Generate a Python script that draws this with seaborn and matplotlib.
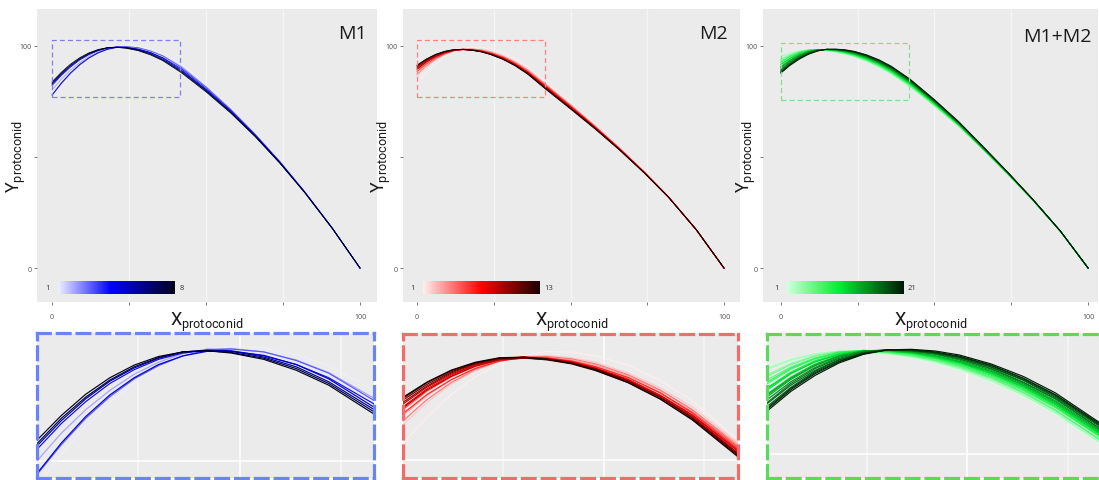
import matplotlib
matplotlib.use("Agg")
import matplotlib.pyplot as plt
import seaborn as sns
import pandas as pd
from matplotlib import font_manager
from matplotlib.colors import LinearSegmentedColormap, Normalize
from matplotlib.cm import ScalarMappable
from matplotlib.patches import Rectangle

# ---------------- data ----------------
X_GRID = [0, 3, 6, 9, 12, 15, 18, 21, 24, 28, 32, 36, 42, 50, 58, 66, 74, 82, 91, 100]

M1_CURVES = [
    [75.5, 81.1, 86.0, 90.2, 93.6, 96.3, 98.3, 99.5, 100.0, 99.7, 98.5, 96.6, 92.0, 82.8, 72.3, 60.8, 48.2, 34.6, 18.0, 0.0],
    [80.0, 84.8, 88.9, 92.3, 95.1, 97.2, 98.7, 99.5, 99.6, 99.0, 97.6, 95.4, 90.6, 81.6, 71.5, 60.2, 47.9, 34.4, 18.0, 0.0],
    [77.6, 82.8, 87.4, 91.2, 94.3, 96.6, 98.3, 99.3, 99.5, 99.0, 97.5, 95.3, 90.2, 81.3, 71.2, 60.0, 47.8, 34.3, 17.9, 0.0],
    [82.0, 86.5, 90.3, 93.5, 95.9, 97.7, 98.8, 99.3, 99.2, 98.3, 96.8, 94.5, 89.6, 80.7, 70.9, 59.8, 47.6, 34.3, 17.9, 0.0],
    [77.8, 83.1, 87.7, 91.5, 94.5, 96.8, 98.3, 99.1, 99.1, 98.4, 96.8, 94.3, 89.0, 80.2, 70.5, 59.5, 47.5, 34.2, 17.9, 0.0],
    [82.6, 87.0, 90.8, 93.9, 96.2, 97.9, 99.0, 99.3, 99.1, 98.1, 96.4, 93.8, 88.6, 79.9, 70.2, 59.4, 47.3, 34.1, 17.9, 0.0],
    [83.0, 87.4, 91.1, 94.1, 96.4, 98.0, 99.0, 99.2, 98.9, 97.9, 96.1, 93.5, 88.2, 79.6, 70.0, 59.2, 47.2, 34.1, 17.9, 0.0],
    [83.6, 87.9, 91.6, 94.5, 96.7, 98.2, 99.0, 99.2, 98.8, 97.7, 95.8, 93.2, 87.8, 79.2, 69.7, 59.0, 47.1, 34.0, 17.8, 0.0],
]

M2_CURVES = [
    [83.0, 87.7, 91.7, 94.8, 97.1, 98.6, 99.3, 99.2, 98.5, 96.9, 94.2, 90.6, 83.3, 74.1, 64.4, 54.3, 43.6, 32.1, 17.3, 0.0],
    [86.3, 90.3, 93.5, 95.9, 97.5, 98.4, 98.6, 98.2, 97.4, 95.5, 92.9, 89.5, 82.8, 73.7, 64.1, 54.1, 43.4, 32.0, 17.3, 0.0],
    [88.0, 91.5, 94.3, 96.4, 97.8, 98.4, 98.3, 97.8, 96.9, 95.0, 92.4, 89.0, 82.5, 73.4, 63.9, 54.0, 43.3, 32.0, 17.3, 0.0],
    [87.0, 90.8, 93.8, 96.1, 97.6, 98.4, 98.4, 98.0, 97.1, 95.2, 92.5, 89.0, 82.2, 73.2, 63.7, 53.8, 43.3, 31.9, 17.2, 0.0],
    [89.0, 92.3, 94.8, 96.7, 97.8, 98.3, 98.2, 97.6, 96.6, 94.7, 92.0, 88.6, 82.0, 73.0, 63.6, 53.7, 43.2, 31.9, 17.2, 0.0],
    [88.3, 91.7, 94.3, 96.3, 97.6, 98.2, 98.1, 97.6, 96.6, 94.7, 92.0, 88.4, 81.7, 72.7, 63.4, 53.6, 43.1, 31.9, 17.2, 0.0],
    [89.5, 92.7, 95.1, 96.9, 98.0, 98.3, 98.1, 97.5, 96.4, 94.4, 91.6, 88.1, 81.5, 72.6, 63.3, 53.5, 43.1, 31.8, 17.2, 0.0],
    [90.0, 93.0, 95.3, 96.9, 97.9, 98.2, 98.0, 97.4, 96.3, 94.3, 91.5, 88.0, 81.3, 72.4, 63.2, 53.4, 43.0, 31.8, 17.2, 0.0],
    [89.3, 92.5, 94.9, 96.7, 97.8, 98.1, 97.9, 97.3, 96.2, 94.1, 91.3, 87.8, 81.0, 72.1, 63.0, 53.3, 43.0, 31.8, 17.2, 0.0],
    [90.3, 93.2, 95.5, 97.1, 98.0, 98.2, 97.9, 97.2, 96.1, 94.0, 91.2, 87.6, 80.9, 72.0, 62.9, 53.3, 42.9, 31.8, 17.2, 0.0],
    [90.7, 93.5, 95.7, 97.2, 98.1, 98.3, 98.0, 97.3, 96.2, 94.1, 91.2, 87.5, 80.7, 71.9, 62.8, 53.2, 42.9, 31.7, 17.2, 0.0],
    [91.0, 93.8, 95.9, 97.3, 98.1, 98.2, 97.8, 97.1, 95.9, 93.8, 90.9, 87.3, 80.5, 71.7, 62.7, 53.1, 42.8, 31.7, 17.2, 0.0],
    [91.2, 93.9, 96.0, 97.4, 98.2, 98.3, 97.9, 97.2, 96.0, 93.8, 90.9, 87.2, 80.3, 71.5, 62.5, 53.0, 42.8, 31.7, 17.2, 0.0],
]

M12_CURVES = [
    [95.5, 96.8, 97.7, 98.0, 97.9, 97.5, 96.9, 95.9, 94.7, 92.6, 90.0, 86.9, 81.3, 72.6, 63.4, 52.8, 41.9, 30.4, 16.5, 0.0],
    [94.8, 96.4, 97.5, 98.0, 97.9, 97.6, 97.0, 96.1, 94.9, 92.8, 90.3, 87.2, 81.6, 72.8, 63.5, 52.9, 42.0, 30.5, 16.5, 0.0],
    [95.0, 96.6, 97.6, 98.1, 98.1, 97.7, 97.1, 96.2, 95.0, 92.9, 90.3, 87.2, 81.5, 72.8, 63.5, 52.9, 41.9, 30.5, 16.5, 0.0],
    [93.9, 95.9, 97.3, 98.0, 98.1, 97.8, 97.2, 96.4, 95.2, 93.2, 90.6, 87.5, 81.9, 73.1, 63.7, 53.1, 42.0, 30.5, 16.5, 0.0],
    [93.6, 95.7, 97.2, 98.0, 98.1, 97.8, 97.3, 96.4, 95.3, 93.3, 90.8, 87.7, 82.1, 73.3, 63.9, 53.1, 42.1, 30.6, 16.5, 0.0],
    [93.0, 95.3, 96.9, 97.9, 98.1, 97.9, 97.4, 96.5, 95.4, 93.4, 90.8, 87.7, 82.0, 73.2, 63.8, 53.1, 42.1, 30.5, 16.5, 0.0],
    [92.3, 94.9, 96.7, 97.8, 98.1, 97.9, 97.4, 96.7, 95.6, 93.6, 91.1, 88.1, 82.5, 73.6, 64.1, 53.3, 42.2, 30.6, 16.5, 0.0],
    [92.6, 95.1, 96.8, 97.9, 98.2, 98.0, 97.6, 96.8, 95.7, 93.8, 91.3, 88.2, 82.6, 73.7, 64.2, 53.3, 42.2, 30.6, 16.5, 0.0],
    [91.6, 94.4, 96.4, 97.7, 98.2, 98.1, 97.7, 96.9, 95.9, 94.0, 91.5, 88.4, 82.8, 73.9, 64.3, 53.4, 42.3, 30.6, 16.5, 0.0],
    [91.2, 94.1, 96.2, 97.5, 98.2, 98.1, 97.8, 97.0, 96.0, 94.1, 91.7, 88.6, 83.0, 74.0, 64.4, 53.5, 42.3, 30.7, 16.5, 0.0],
    [91.5, 94.2, 96.2, 97.5, 98.1, 98.1, 97.8, 97.1, 96.1, 94.2, 91.8, 88.7, 83.1, 74.1, 64.5, 53.6, 42.4, 30.7, 16.5, 0.0],
    [90.5, 93.5, 95.8, 97.3, 98.1, 98.2, 97.8, 97.2, 96.2, 94.4, 92.0, 88.9, 83.3, 74.3, 64.6, 53.6, 42.4, 30.7, 16.5, 0.0],
    [90.0, 93.1, 95.5, 97.2, 98.0, 98.2, 97.9, 97.3, 96.3, 94.5, 92.1, 89.1, 83.5, 74.5, 64.7, 53.7, 42.5, 30.7, 16.5, 0.0],
    [90.3, 93.3, 95.6, 97.2, 98.1, 98.3, 98.0, 97.5, 96.5, 94.7, 92.3, 89.3, 83.7, 74.6, 64.8, 53.8, 42.5, 30.8, 16.6, 0.0],
    [89.5, 92.7, 95.2, 97.0, 98.0, 98.3, 98.1, 97.6, 96.7, 94.9, 92.5, 89.6, 83.9, 74.8, 65.0, 53.9, 42.6, 30.8, 16.6, 0.0],
    [89.0, 92.4, 95.0, 96.8, 97.9, 98.3, 98.1, 97.6, 96.7, 95.0, 92.6, 89.7, 84.0, 74.9, 65.0, 53.9, 42.6, 30.8, 16.6, 0.0],
    [88.8, 92.1, 94.7, 96.6, 97.8, 98.3, 98.2, 97.7, 96.9, 95.2, 92.9, 89.9, 84.3, 75.1, 65.2, 54.1, 42.7, 30.8, 16.6, 0.0],
    [88.3, 91.7, 94.5, 96.5, 97.7, 98.3, 98.2, 97.8, 97.0, 95.3, 93.0, 90.1, 84.5, 75.3, 65.3, 54.1, 42.7, 30.9, 16.6, 0.0],
    [88.0, 91.5, 94.3, 96.3, 97.7, 98.3, 98.3, 97.9, 97.1, 95.5, 93.2, 90.3, 84.6, 75.4, 65.4, 54.2, 42.8, 30.9, 16.6, 0.0],
    [87.8, 91.3, 94.1, 96.2, 97.6, 98.3, 98.3, 97.9, 97.2, 95.6, 93.3, 90.4, 84.8, 75.6, 65.5, 54.3, 42.8, 30.9, 16.6, 0.0],
    [87.5, 91.0, 93.8, 96.0, 97.5, 98.3, 98.4, 98.1, 97.4, 95.8, 93.6, 90.7, 85.0, 75.7, 65.7, 54.4, 42.9, 30.9, 16.6, 0.0],
]

PANEL_TITLES = ["M1", "M2", "M1+M2"]
CURVE_SETS = [M1_CURVES, M2_CURVES, M12_CURVES]
X_TICKS = [0, 25, 50, 75, 100]
X_TICKLABELS = ["0", "", "", "", "100"]
Y_TICKS = [0, 50, 100]
Y_TICKLABELS = ["0", "", "100"]
ZOOM_BOXES = [(0, 41.6, 77.0, 102.3), (0, 41.7, 76.9, 102.4), (0, 41.8, 75.7, 101.1)]

# ---------------- style ----------------
CMAP_STOPS = [
    [(0.0, "#eeeeff"), (0.45, "#0000ff"), (1.0, "#00001a")],
    [(0.0, "#ffeeee"), (0.5, "#ff0000"), (1.0, "#1a0000")],
    [(0.0, "#d2ffdc"), (0.45, "#00ee33"), (1.0, "#001a05")],
]
RECT_COLORS = ["#7f7ff2", "#ff8080", "#86dc92"]
BORDER_COLORS = ["#6b84f5", "#f26c6c", "#5cd85c"]

W, H = 1099, 481
PANELS_PX = [(37, 10, 377, 303), (403, 10, 740, 303), (763, 10, 1098, 303)]
XLIMS = [(-4.87, 105.5), (-4.56, 105.2), (-5.75, 103.2)]
YLIM = (-15.2, 116.4)
INSETS_PX = [(37, 334, 374, 479), (403, 335, 738, 479), (767, 335, 1102, 479)]
YLABEL_X = [-0.026, -0.03, -0.015]
TITLE_POS = [(0.97, 0.949), (0.964, 0.949), (0.982, 0.939)]
BG = "#ebebeb"

sns.set_theme(style="white")
plt.rcParams["font.family"] = ["Open Sans", "DejaVu Sans"]
names = {f.name for f in font_manager.fontManager.ttflist}
LABEL_FONT = "Liberation Sans Narrow" if "Liberation Sans Narrow" in names else "Roboto"
plt.rcParams["mathtext.fontset"] = "custom"
plt.rcParams["mathtext.rm"] = LABEL_FONT
plt.rcParams["mathtext.it"] = LABEL_FONT
plt.rcParams["lines.solid_joinstyle"] = "round"
plt.rcParams["lines.solid_capstyle"] = "round"


def px_rect(x0, y0, x1, y1):
    return [x0 / W, 1 - y1 / H, (x1 - x0) / W, (y1 - y0) / H]


fig = plt.figure(figsize=(W / 100, H / 100), dpi=100)
fig.patch.set_facecolor("white")

for k in range(3):
    curves = CURVE_SETS[k]
    n = len(curves)
    cmap = LinearSegmentedColormap.from_list(f"cm{k}", CMAP_STOPS[k])
    names_c = [f"c{i + 1:02d}" for i in range(n)]
    rows = []
    for name, ys in zip(names_c, curves):
        for x, y in zip(X_GRID, ys):
            rows.append({"x": x, "y": y, "curve": name})
    df = pd.DataFrame(rows)
    palette = {nm: cmap(i / (n - 1)) for i, nm in enumerate(names_c)}

    # ---- main panel ----
    ax = fig.add_axes(px_rect(*PANELS_PX[k]))
    ax.set_facecolor(BG)
    for gx in (25, 50, 75):
        ax.axvline(gx, color="white", lw=0.9, alpha=0.5, zorder=0)
    sns.lineplot(data=df, x="x", y="y", hue="curve", hue_order=names_c, palette=palette,
                 estimator=None, sort=False, legend=False, linewidth=0.6, ax=ax)
    ax.set_xlim(*XLIMS[k])
    ax.set_ylim(*YLIM)
    for s in ax.spines.values():
        s.set_visible(False)
    ax.set_xticks(X_TICKS)
    ax.set_xticklabels(X_TICKLABELS)
    ax.set_yticks(Y_TICKS)
    ax.set_yticklabels(Y_TICKLABELS)
    ax.tick_params(axis="both", bottom=True, left=True, length=2, width=0.6, color="#666666",
                   labelsize=5, labelcolor="#4d4d4d")
    ax.tick_params(axis="x", pad=6)
    ax.tick_params(axis="y", pad=2)
    ax.set_xlabel(r"$\mathrm{X}_{\mathrm{protoconid}}$", fontsize=13, color="#1a1a1a")
    ax.set_ylabel(r"$\mathrm{Y}_{\mathrm{protoconid}}$", fontsize=13, color="#1a1a1a")
    ax.xaxis.set_label_coords(0.5, -0.025)
    ax.xaxis.label.set_va("top")
    ax.yaxis.set_label_coords(YLABEL_X[k], 0.5)

    ax.text(TITLE_POS[k][0], TITLE_POS[k][1], PANEL_TITLES[k], transform=ax.transAxes,
            ha="right", va="top", fontsize=14, color="#1a1a1a")

    x0, x1, y0, y1 = ZOOM_BOXES[k]
    ax.add_patch(Rectangle((x0, y0), x1 - x0, y1 - y0, fill=False, ec=RECT_COLORS[k],
                           lw=0.9, ls=(0, (4, 2.5)), zorder=5))

    # ---- colour legend ----
    cax = ax.inset_axes([2, -11.6, 38, 5.8], transform=ax.transData)
    sm = ScalarMappable(norm=Normalize(1, n), cmap=cmap)
    cb = fig.colorbar(sm, cax=cax, orientation="horizontal")
    cb.outline.set_visible(False)
    cax.set_axis_off()
    ax.text(-1.3, -8.7, "1", ha="center", va="center", fontsize=5.5, color="#333333")
    ax.text(41.3, -8.7, str(n), ha="left", va="center", fontsize=5.5, color="#333333")

    # ---- zoom inset ----
    axi = fig.add_axes(px_rect(*INSETS_PX[k]))
    axi.set_facecolor(BG)
    for gx, al in ((12.5, 0.5), (25, 0.9), (37.5, 0.5)):
        axi.axvline(gx, color="white", lw=1.2, alpha=al, zorder=0)
    axi.axhline(80, color="white", lw=1.2, alpha=0.9, zorder=0)
    sns.lineplot(data=df, x="x", y="y", hue="curve", hue_order=names_c, palette=palette,
                 estimator=None, sort=False, legend=False, linewidth=0.85, ax=axi)
    axi.set_xlim(x0, x1)
    axi.set_ylim(y0, y1)
    axi.set_xticks([])
    axi.set_yticks([])
    axi.set_xlabel("")
    axi.set_ylabel("")
    for s in axi.spines.values():
        s.set_visible(True)
        s.set_color(BORDER_COLORS[k])
        s.set_linewidth(2.3)
        s.set_linestyle((0, (4, 2.2)))

fig.savefig("out.png", dpi=100, facecolor="white")
